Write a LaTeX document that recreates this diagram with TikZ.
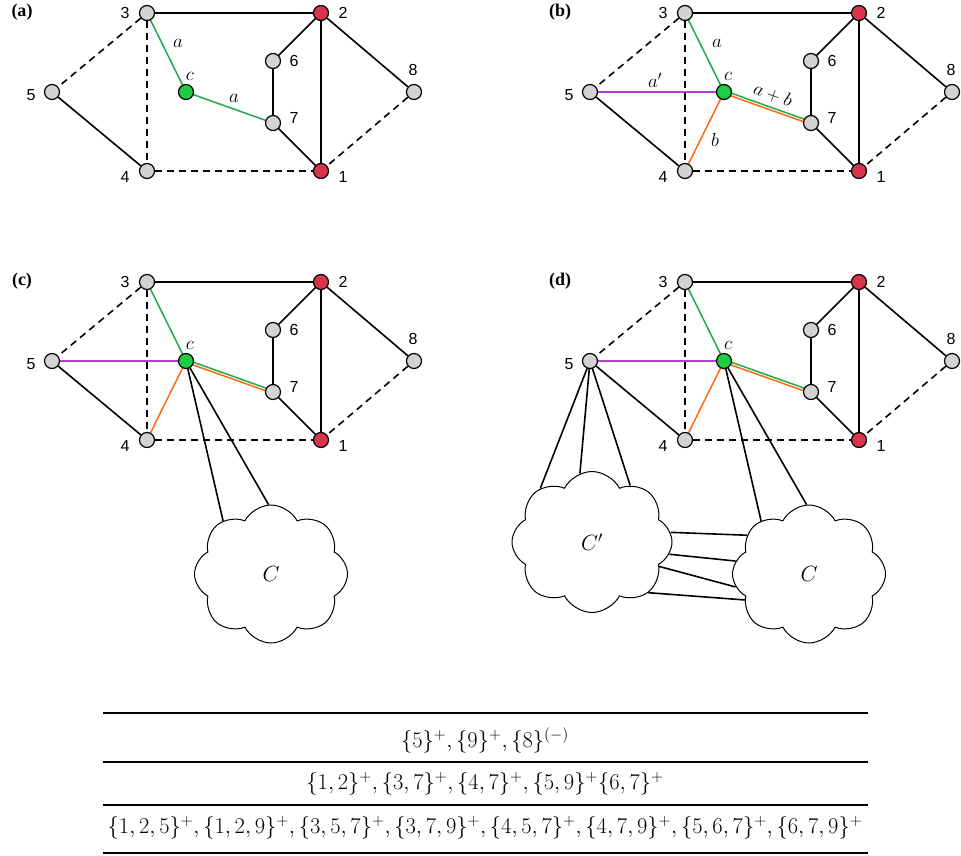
\RequirePackage{fix-cm}
\documentclass[tikz,border=0pt]{standalone}
\usepackage[no-math]{fontspec}
\setsansfont{Liberation Sans}
\newfontfamily\panelfont{Liberation Serif}
\usetikzlibrary{shapes.symbols}
\definecolor{nodegray}{HTML}{D3D3D3}
\definecolor{nodered}{HTML}{D7344E}
\definecolor{nodegreen}{HTML}{1FCC45}
\definecolor{edgegreen}{HTML}{22AA48}
\definecolor{edgeorange}{HTML}{FF6A10}
\definecolor{edgepurple}{HTML}{B040CC}
\pgfdeclarelayer{back}
\pgfdeclarelayer{bg}
\pgfsetlayers{back,bg,main}
\tikzset{
  gn/.style={circle,draw,line width=1.2pt,fill=nodegray,minimum size=15pt,inner sep=0pt},
  rn/.style={gn,fill=nodered},
  cn/.style={gn,fill=nodegreen},
  lbl/.style={font=\sffamily\fontsize{16}{16}\selectfont,inner sep=0pt},
  mlbl/.style={font=\fontsize{19}{19}\selectfont,inner sep=0pt},
  plbl/.style={font=\panelfont\bfseries\fontsize{18}{18}\selectfont,inner sep=0pt},
  edge/.style={line width=1.6pt,black},
  dedge/.style={edge,dash pattern=on 7pt off 5pt},
  gedge/.style={line width=1.5pt,edgegreen},
  oedge/.style={line width=1.5pt,edgeorange},
  pedge/.style={line width=1.5pt,edgepurple},
  cloudnode/.style={cloud,draw,line width=1pt,fill=white,cloud puffs=8,cloud puff arc=125,
     cloud ignores aspect,minimum width=153pt,minimum height=138pt,inner sep=0pt,
     font=\fontsize{22}{22}\selectfont},
  tbl/.style={font=\fontsize{22.5}{22.5}\selectfont,inner sep=0pt}
}
\newcommand\basegraph[2]{%
  \node[plbl] (#1lab) at (22,12) {(#2)};
  \node[gn] (#13) at (147,13) {};
  \node[rn] (#12) at (321,13) {};
  \node[gn] (#16) at (273,61) {};
  \node[gn] (#18) at (414,92) {};
  \node[gn] (#15) at (52,92) {};
  \node[cn] (#1c) at (186,92) {};
  \node[gn] (#17) at (273,123) {};
  \node[gn] (#14) at (147,171) {};
  \node[rn] (#11) at (321,171) {};
  \node[lbl] (#1l3) at (125,13) {3};
  \node[lbl] (#1l2) at (343,13) {2};
  \node[lbl] (#1l6) at (294,61) {6};
  \node[lbl] (#1l8) at (413,70) {8};
  \node[lbl] (#1l5) at (31,95) {5};
  \node[lbl] (#1l7) at (294,118) {7};
  \node[lbl] (#1l4) at (125,177) {4};
  \node[lbl] (#1l1) at (343,177) {1};
  \node[mlbl] (#1lc) at (190,76) {$c$};
  \begin{pgfonlayer}{bg}
    \draw[edge] (#13) -- (#12);
    \draw[dedge] (#13) -- (#15);
    \draw[dedge] (#13) -- (#14);
    \draw[edge] (#15) -- (#14);
    \draw[dedge] (#14) -- (#11);
    \draw[edge] (#12) -- (#16);
    \draw[edge] (#16) -- (#17);
    \draw[edge] (#17) -- (#11);
    \draw[edge] (#12) -- (#11);
    \draw[edge] (#12) -- (#18);
    \draw[dedge] (#18) -- (#11);
    \draw[gedge] (#13.center) -- (#1c.center);
  \end{pgfonlayer}
}
\newcommand\extgraph[1]{%
  \begin{pgfonlayer}{bg}
    \draw[pedge] (#15.center) -- (#1c.center);
    \draw[oedge] (#14.center) -- (#1c.center);
    \draw[gedge] ([shift={(0.45,-1.25)}]#1c.center) -- ([shift={(0.45,-1.25)}]#17.center);
    \draw[oedge] ([shift={(-0.45,1.25)}]#1c.center) -- ([shift={(-0.45,1.25)}]#17.center);
  \end{pgfonlayer}
}
\begin{document}
\begin{tikzpicture}[x=1pt,y=-1pt]
\useasboundingbox (0,0) rectangle (961,856);
\begin{pgfonlayer}{back}
\fill[white] (0,0) rectangle (961,856);
\end{pgfonlayer}
% (a)
\begin{scope}
  \basegraph{pa}{a}
  \begin{pgfonlayer}{bg}
    \draw[gedge] (pac.center) -- (pa7.center);
  \end{pgfonlayer}
  \node[mlbl] (pala1) at (178,43) {$a$};
  \node[mlbl] (pala2) at (234,98) {$a$};
\end{scope}
% (b)
\begin{scope}[shift={(538,0)}]
  \basegraph{pb}{b}
  \extgraph{pb}
  \node[mlbl] (pbla) at (179,43) {$a$};
  \node[mlbl] (pblap) at (117,80) {$a'$};
  \node[mlbl,rotate=-19.6] (pblab) at (235,95) {$a+b$};
  \node[mlbl] (pblb) at (177,140) {$b$};
\end{scope}
% (c)
\begin{scope}[shift={(0,269)}]
  \basegraph{pc}{c}
  \extgraph{pc}
  \node[cloudnode] (pcC) at (271,305) {$C$};
  \begin{pgfonlayer}{bg}
    \draw[edge] (pcc.center) -- (pcC.132);
    \draw[edge] (pcc.center) -- (pcC.92);
  \end{pgfonlayer}
\end{scope}
% (d)
\begin{scope}[shift={(538,269)}]
  \basegraph{pd}{d}
  \extgraph{pd}
  \node[cloudnode,minimum width=160pt,minimum height=141pt] (pdCp) at (54,273) {$C'$};
  \node[cloudnode] (pdC) at (271,305) {$C$};
  \begin{pgfonlayer}{bg}
    \draw[edge] (pdc.center) -- (pdC.132);
    \draw[edge] (pdc.center) -- (pdC.92);
    \draw[edge] (pd5.center) -- (pdCp.134);
    \draw[edge] (pd5.center) -- (pdCp.100);
    \draw[edge] (pd5.center) -- (pdCp.56);
    \draw[edge] (pdCp.7) -- (pdC.148);
    \draw[edge] (pdCp.-9) -- (pdC.170);
    \draw[edge] (pdCp.-20) -- (pdC.190);
    \draw[edge] (pdCp.-42) -- (pdC.202);
  \end{pgfonlayer}
\end{scope}
% table
\coordinate (t1l) at (103,713); \coordinate (t1r) at (868,713);
\coordinate (t2l) at (103,762); \coordinate (t2r) at (868,762);
\coordinate (t3l) at (103,805); \coordinate (t3r) at (868,805);
\coordinate (t4l) at (103,853); \coordinate (t4r) at (868,853);
\draw[line width=2.2pt] (t1l) -- (t1r);
\draw[line width=1.2pt] (t2l) -- (t2r);
\draw[line width=1.2pt] (t3l) -- (t3r);
\draw[line width=2.2pt] (t4l) -- (t4r);
\node[tbl] (row1) at (485,740) {$\{5\}^+,\{9\}^+,\{8\}^{(-)}$};
\node[tbl] (row2) at (485,784) {$\{1,2\}^+,\{3,7\}^+,\{4,7\}^+,\{5,9\}^+\{6,7\}^+$};
\node[tbl] (row3) at (485,828) {$\{1,2,5\}^+,\{1,2,9\}^+,\{3,5,7\}^+,\{3,7,9\}^+,\{4,5,7\}^+,\{4,7,9\}^+,\{5,6,7\}^+,\{6,7,9\}^+$};
\end{tikzpicture}
\end{document}
